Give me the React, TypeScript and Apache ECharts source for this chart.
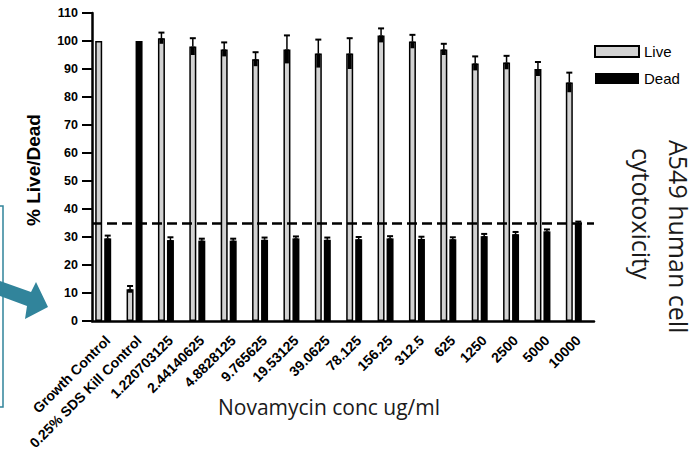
import React, { useEffect, useRef } from "react";
import * as echarts from "echarts";

const categories = [
  "Growth Control",
  "0.25% SDS Kill Control",
  "1.220703125",
  "2.44140625",
  "4.8828125",
  "9.765625",
  "19.53125",
  "39.0625",
  "78.125",
  "156.25",
  "312.5",
  "625",
  "1250",
  "2500",
  "5000",
  "10000",
];
const live = [100, 11.3, 101, 98, 97, 93.5, 97, 95.5, 95.5, 102, 99.8, 97, 92, 92.3, 90, 85.2];
const liveErr = [0, 1.2, 2, 3, 2.5, 2.5, 5, 5, 5.5, 2.5, 2.4, 2, 2.5, 2.4, 2.5, 3.5];
const dead = [29.5, 100, 28.9, 28.7, 28.7, 29, 29.5, 29, 29.2, 29.5, 29.3, 29.2, 30.3, 31, 32, 35];
const deadErr = [1, 0, 1, 0.7, 0.7, 0.8, 0.7, 0.8, 0.8, 0.8, 0.8, 0.7, 0.8, 0.8, 0.7, 0.5];
const threshold = 35;
const yTicks = { min: 0, max: 110, interval: 10 };

const FONT = "Liberation Sans, Arial, sans-serif";
const TEAL = "#31849B";

function makeErr(offset: number) {
  return (params: any, api: any) => {
    const i = api.value(0);
    const v = api.value(1);
    const e = api.value(2);
    if (!e) return null;
    const top = api.coord([i, v + e]);
    const mid = api.coord([i, v]);
    const bot = api.coord([i, v - e]);
    const x = top[0] + offset;
    return {
      type: "group",
      children: [
        {
          type: "rect",
          shape: { x: x - 2, y: mid[1], width: 4, height: bot[1] - mid[1] },
          style: { fill: "#000" },
        },
        {
          type: "line",
          shape: { x1: x, y1: top[1], x2: x, y2: mid[1] },
          style: { stroke: "#000", lineWidth: 1.5 },
        },
        {
          type: "line",
          shape: { x1: x - 3, y1: top[1], x2: x + 3, y2: top[1] },
          style: { stroke: "#000", lineWidth: 2 },
        },
      ],
    };
  };
}

export default function App() {
  const ref = useRef<HTMLDivElement>(null);
  useEffect(() => {
    if (!ref.current) return;
    const chart = echarts.init(ref.current, null, { renderer: "svg" });
    chart.setOption({
      animation: false,
      backgroundColor: "#fff",
      textStyle: { fontFamily: FONT },
      grid: {
        left: 92,
        right: 102,
        top: 13,
        bottom: 137,
        containLabel: false,
        outerBoundsMode: "none",
      },
      legend: {
        data: ["Live", "Dead"],
        orient: "vertical",
        left: 594,
        top: 44,
        itemWidth: 44,
        itemHeight: 11,
        itemGap: 12,
        itemTextGap: 4,
        icon: "rect",
        padding: 0,
        textStyle: { fontSize: 15, fontFamily: FONT, color: "#000" },
      },
      xAxis: {
        type: "category",
        data: categories,
        axisLine: { lineStyle: { color: "#000", width: 2.5 } },
        axisTick: { alignWithLabel: true, length: 8, lineStyle: { color: "#000", width: 2 } },
        axisLabel: {
          rotate: 45,
          interval: 0,
          margin: 17,
          fontSize: 14,
          fontWeight: "bold",
          color: "#000",
          fontFamily: FONT,
        },
        splitLine: { show: false },
      },
      yAxis: {
        type: "value",
        min: yTicks.min,
        max: yTicks.max,
        interval: yTicks.interval,
        axisLine: { show: true, lineStyle: { color: "#000", width: 2.5 } },
        axisTick: { show: true, length: 10, lineStyle: { color: "#000", width: 2 } },
        axisLabel: { margin: 14, fontSize: 12.5, fontWeight: "bold", color: "#000", fontFamily: FONT },
        splitLine: { show: false },
      },
      series: [
        {
          name: "Live",
          type: "bar",
          data: live,
          barWidth: 7,
          barGap: "28.57%",
          itemStyle: { color: "#d2d2d2", borderColor: "#000", borderWidth: 1.5 },
          markLine: {
            silent: true,
            symbol: "none",
            label: { show: false },
            lineStyle: { color: "#000", width: 2.5, type: [10, 5] },
            data: [{ yAxis: threshold }],
            z: 10,
          },
        },
        {
          name: "Dead",
          type: "bar",
          data: dead,
          barWidth: 7,
          barGap: "28.57%",
          itemStyle: { color: "#000" },
        },
        {
          name: "ghost",
          type: "bar",
          data: categories.map(() => 0),
          barWidth: 7,
          barGap: "28.57%",
          itemStyle: { color: "transparent" },
          silent: true,
        },
        {
          name: "LiveErr",
          type: "custom",
          renderItem: makeErr(-9),
          data: live.map((v, i) => [i, v, liveErr[i]]),
          encode: { x: 0, y: 1 },
          z: 5,
        },
        {
          name: "DeadErr",
          type: "custom",
          renderItem: makeErr(0),
          data: dead.map((v, i) => [i, v, deadErr[i]]),
          encode: { x: 0, y: 1 },
          z: 5,
        },
      ],
      graphic: [
        {
          type: "text",
          x: 33,
          y: 170,
          rotation: Math.PI / 2,
          style: {
            text: "% Live/Dead",
            fontSize: 19,
            fontWeight: "bold",
            fontFamily: FONT,
            fill: "#000",
            align: "center",
            verticalAlign: "middle",
          },
        },
        {
          type: "text",
          x: 329,
          y: 407,
          style: {
            text: "Novamycin conc ug/ml",
            fontSize: 21,
            fontFamily: "Open Sans",
            fill: "#1a1a1a",
            align: "center",
            verticalAlign: "middle",
          },
        },
        {
          type: "text",
          x: 679,
          y: 140,
          rotation: -Math.PI / 2,
          style: {
            text: "A549 human cell",
            fontSize: 25,
            fontFamily: "Open Sans",
            fill: "#1a1a1a",
            align: "left",
            verticalAlign: "middle",
          },
        },
        {
          type: "text",
          x: 642,
          y: 148,
          rotation: -Math.PI / 2,
          style: {
            text: "cytotoxicity",
            fontSize: 25,
            fontFamily: "Open Sans",
            fill: "#1a1a1a",
            align: "left",
            verticalAlign: "middle",
          },
        },
        {
          type: "rect",
          shape: { x: -50, y: 206, width: 53, height: 201 },
          style: { fill: "none", stroke: TEAL, lineWidth: 1.5 },
        },
        {
          type: "polygon",
          shape: {
            points: [
              [0, 281],
              [31, 292],
              [36, 282],
              [48, 307],
              [25, 319],
              [27, 306],
              [0, 296],
            ],
          },
          style: { fill: TEAL },
        },
      ],
    });
    return () => chart.dispose();
  }, []);
  return (
    <div
      ref={ref}
      style={{ position: "fixed", left: 0, top: 0, width: 696, height: 458, background: "#fff" }}
    />
  );
}
